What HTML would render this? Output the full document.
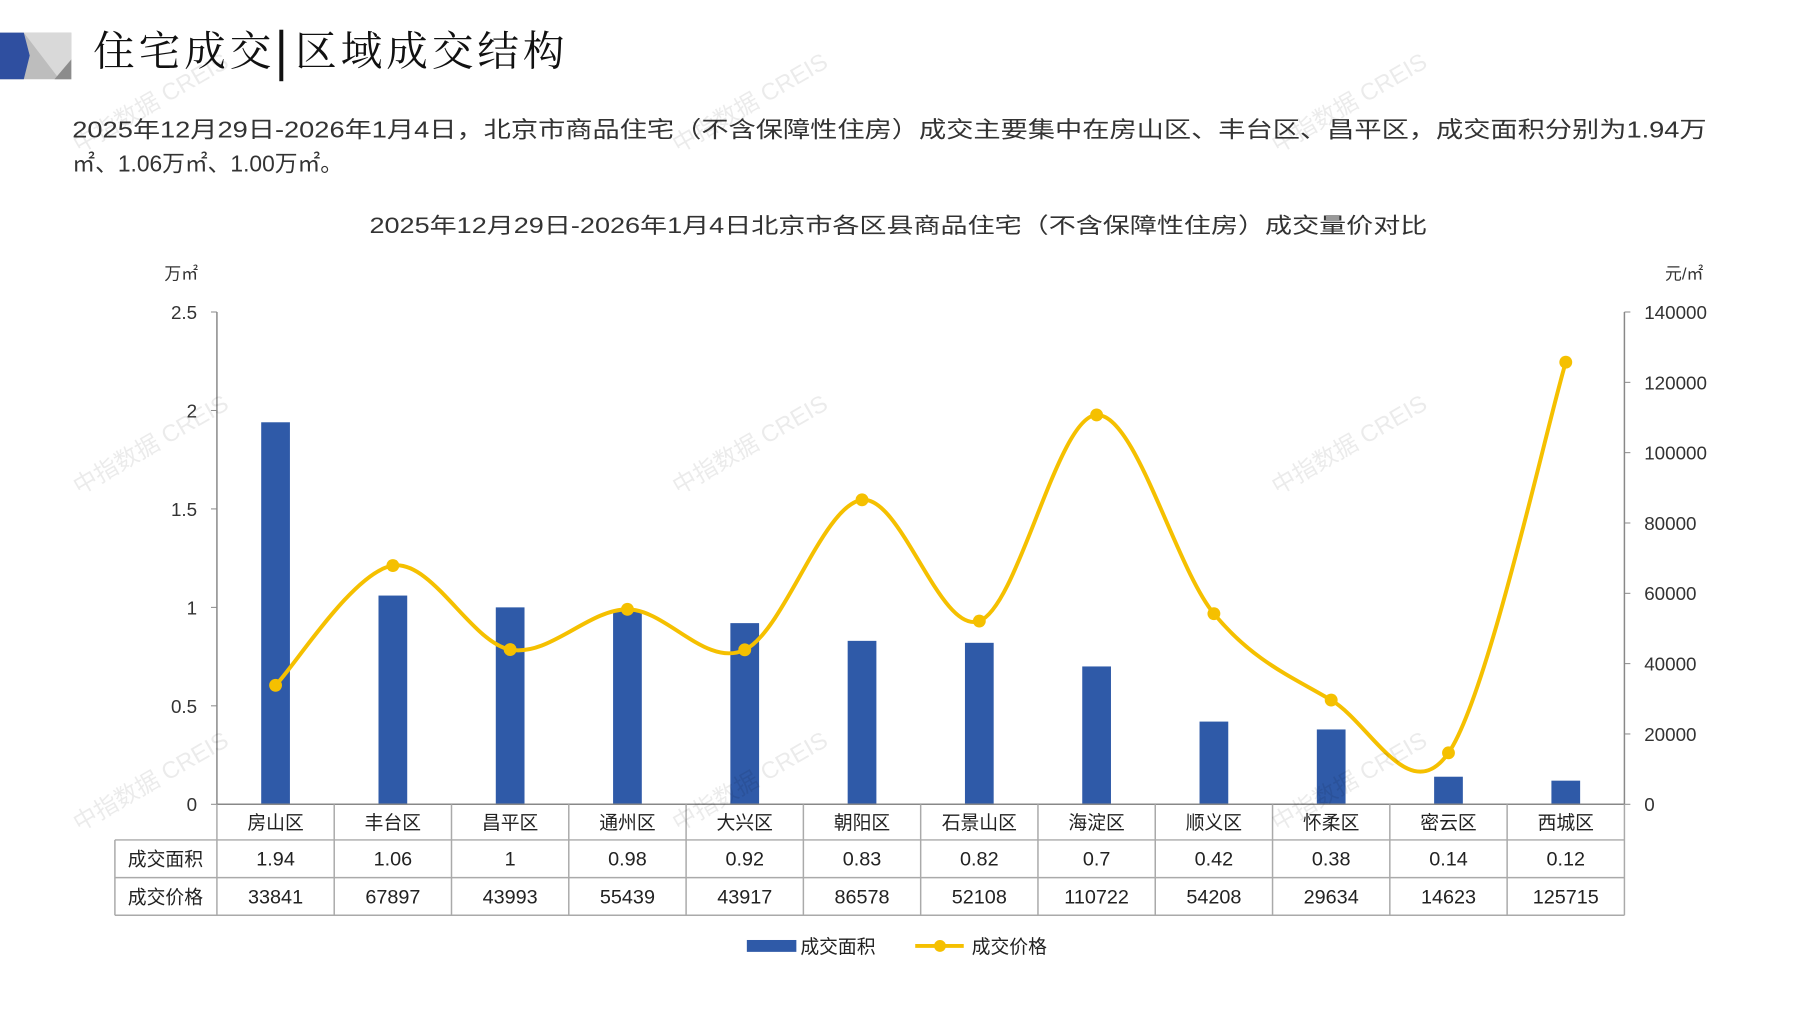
<!DOCTYPE html>
<html><head><meta charset="utf-8">
<style>
html,body{margin:0;padding:0;background:#fff;}
body{width:1797px;height:1010px;position:relative;overflow:hidden;font-family:"Liberation Sans","Noto Sans CJK SC",sans-serif;color:#222;}
.abs{position:absolute;white-space:nowrap;}
</style></head>
<body>
<svg class="abs" style="left:0;top:0" width="1797" height="1010" xmlns="http://www.w3.org/2000/svg" id="s">
 <g transform="scale(0.9905)">
  <!-- logo -->
  <polygon points="0,33 72,33 72,80 0,80" fill="#bdbdbd"/>
  <polygon points="24,33 72,33 72,80 60,80" fill="#d9d9d9"/>
  <polygon points="55,80 72,60 72,80" fill="#8c8c8c"/>
  <polygon points="0,33 24,33 30,56 24,80 0,80" fill="#2f4fa0"/>
  <rect x="282" y="30" width="4" height="52" fill="#111"/>
  <text x="94" y="66" font-size="42" font-family="Noto Serif CJK SC,serif" fill="#111" letter-spacing="4">住宅成交</text>
  <text x="298" y="66" font-size="42" font-family="Noto Serif CJK SC,serif" fill="#111" letter-spacing="4">区域成交结构</text>
  <g font-size="23" fill="#333" font-family="Liberation Sans,Noto Sans CJK SC,sans-serif">
    <text x="73" y="139" textLength="1650" lengthAdjust="spacingAndGlyphs">2025年12月29日-2026年1月4日，北京市商品住宅（不含保障性住房）成交主要集中在房山区、丰台区、昌平区，成交面积分别为1.94万</text>
    <text x="73" y="173">㎡、1.06万㎡、1.00万㎡。</text>
    <text x="907" y="235" text-anchor="middle" font-size="22" textLength="1068" lengthAdjust="spacingAndGlyphs">2025年12月29日-2026年1月4日北京市各区县商品住宅（不含保障性住房）成交量价对比</text>
    <text x="166" y="282" font-size="17">万㎡</text>
    <text x="1681" y="282" font-size="17">元/㎡</text>
  </g>
  <g id="g"></g>
 </g>
</svg>
<script>
const g=document.getElementById('g');
let h='';
const L=219,R=1640,T=315,B=812,cw=(R-L)/12;
const names=['房山区','丰台区','昌平区','通州区','大兴区','朝阳区','石景山区','海淀区','顺义区','怀柔区','密云区','西城区'];
const area=[1.94,1.06,1,0.98,0.92,0.83,0.82,0.7,0.42,0.38,0.14,0.12];
const price=[33841,67897,43993,55439,43917,86578,52108,110722,54208,29634,14623,125715];
h+=`<line x1="${L}" y1="${T}" x2="${L}" y2="${B}" stroke="#888" stroke-width="1.5"/>`;
h+=`<line x1="${R}" y1="${T}" x2="${R}" y2="${B}" stroke="#888" stroke-width="1.5"/>`;
for(let i=0;i<=5;i++){const y=B-(B-T)*i/5;h+=`<line x1="${L-6}" y1="${y}" x2="${L}" y2="${y}" stroke="#888"/><text x="199" y="${y+7}" font-size="19" text-anchor="end" fill="#333">${[0,0.5,1,1.5,2,2.5][i]}</text>`;}
for(let i=0;i<=7;i++){const y=B-(B-T)*i/7;h+=`<line x1="${R}" y1="${y}" x2="${R+6}" y2="${y}" stroke="#888"/><text x="1660" y="${y+7}" font-size="19" fill="#333">${i*20000}</text>`;}
const cx=i=>L+cw*(i+0.5);
area.forEach((a,i)=>{const y=B-a/2.5*(B-T);h+=`<rect x="${cx(i)-14.5}" y="${y}" width="29" height="${B-y}" fill="#2f5aa8"/>`;});
const P=price.map((p,i)=>[cx(i),B-p/140000*(B-T)]);
let d=`M${P[0][0]},${P[0][1]}`;
for(let i=0;i<P.length-1;i++){const p0=P[Math.max(0,i-1)],p1=P[i],p2=P[i+1],p3=P[Math.min(P.length-1,i+2)];const k=1/6;
d+=` C${p1[0]+(p2[0]-p0[0])*k},${p1[1]+(p2[1]-p0[1])*k} ${p2[0]-(p3[0]-p1[0])*k},${p2[1]-(p3[1]-p1[1])*k} ${p2[0]},${p2[1]}`;}
h+=`<path d="${d}" fill="none" stroke="#f5c000" stroke-width="4"/>`;
P.forEach(p=>h+=`<circle cx="${p[0]}" cy="${p[1]}" r="6.5" fill="#f5c000"/>`);
h+=`<line x1="${L}" y1="812" x2="${R}" y2="812" stroke="#888" stroke-width="1.5"/>`;
h+=`<line x1="116" y1="848" x2="${R}" y2="848" stroke="#aaa" stroke-width="1.5"/><line x1="116" y1="886" x2="${R}" y2="886" stroke="#aaa" stroke-width="1.5"/><line x1="116" y1="924" x2="${R}" y2="924" stroke="#aaa" stroke-width="1.5"/>`;
h+=`<line x1="116" y1="848" x2="116" y2="924" stroke="#aaa" stroke-width="1.5"/>`;
for(let i=0;i<=12;i++){const x=L+cw*i;h+=`<line x1="${x}" y1="812" x2="${x}" y2="924" stroke="#aaa" stroke-width="1.5"/>`;}
h+=`<text x="167" y="874" font-size="19" text-anchor="middle" fill="#222">成交面积</text><text x="167" y="912" font-size="19" text-anchor="middle" fill="#222">成交价格</text>`;
names.forEach((n,i)=>{h+=`<text x="${cx(i)}" y="837" font-size="19" text-anchor="middle" fill="#222">${n}</text><text x="${cx(i)}" y="874" font-size="20" text-anchor="middle" fill="#222">${area[i]}</text><text x="${cx(i)}" y="912" font-size="20" text-anchor="middle" fill="#222">${price[i]}</text>`;});
h+=`<rect x="754" y="949" width="50" height="12" fill="#2f5aa8"/><text x="808" y="962" font-size="19" fill="#222">成交面积</text>`;
h+=`<line x1="924" y1="955" x2="973" y2="955" stroke="#f5c000" stroke-width="4"/><circle cx="949" cy="955" r="6" fill="#f5c000"/><text x="981" y="962" font-size="19" fill="#222">成交价格</text>`;
[[80,155],[685,155],[1290,155],[80,500],[685,500],[1290,500],[80,840],[685,840],[1290,840]].forEach(([x,y])=>{h+=`<text x="${x}" y="${y}" font-size="24" fill="#000" fill-opacity="0.08" transform="rotate(-30 ${x} ${y})">中指数据 CREIS</text>`;});
g.innerHTML=h;
</script>
</body></html>
